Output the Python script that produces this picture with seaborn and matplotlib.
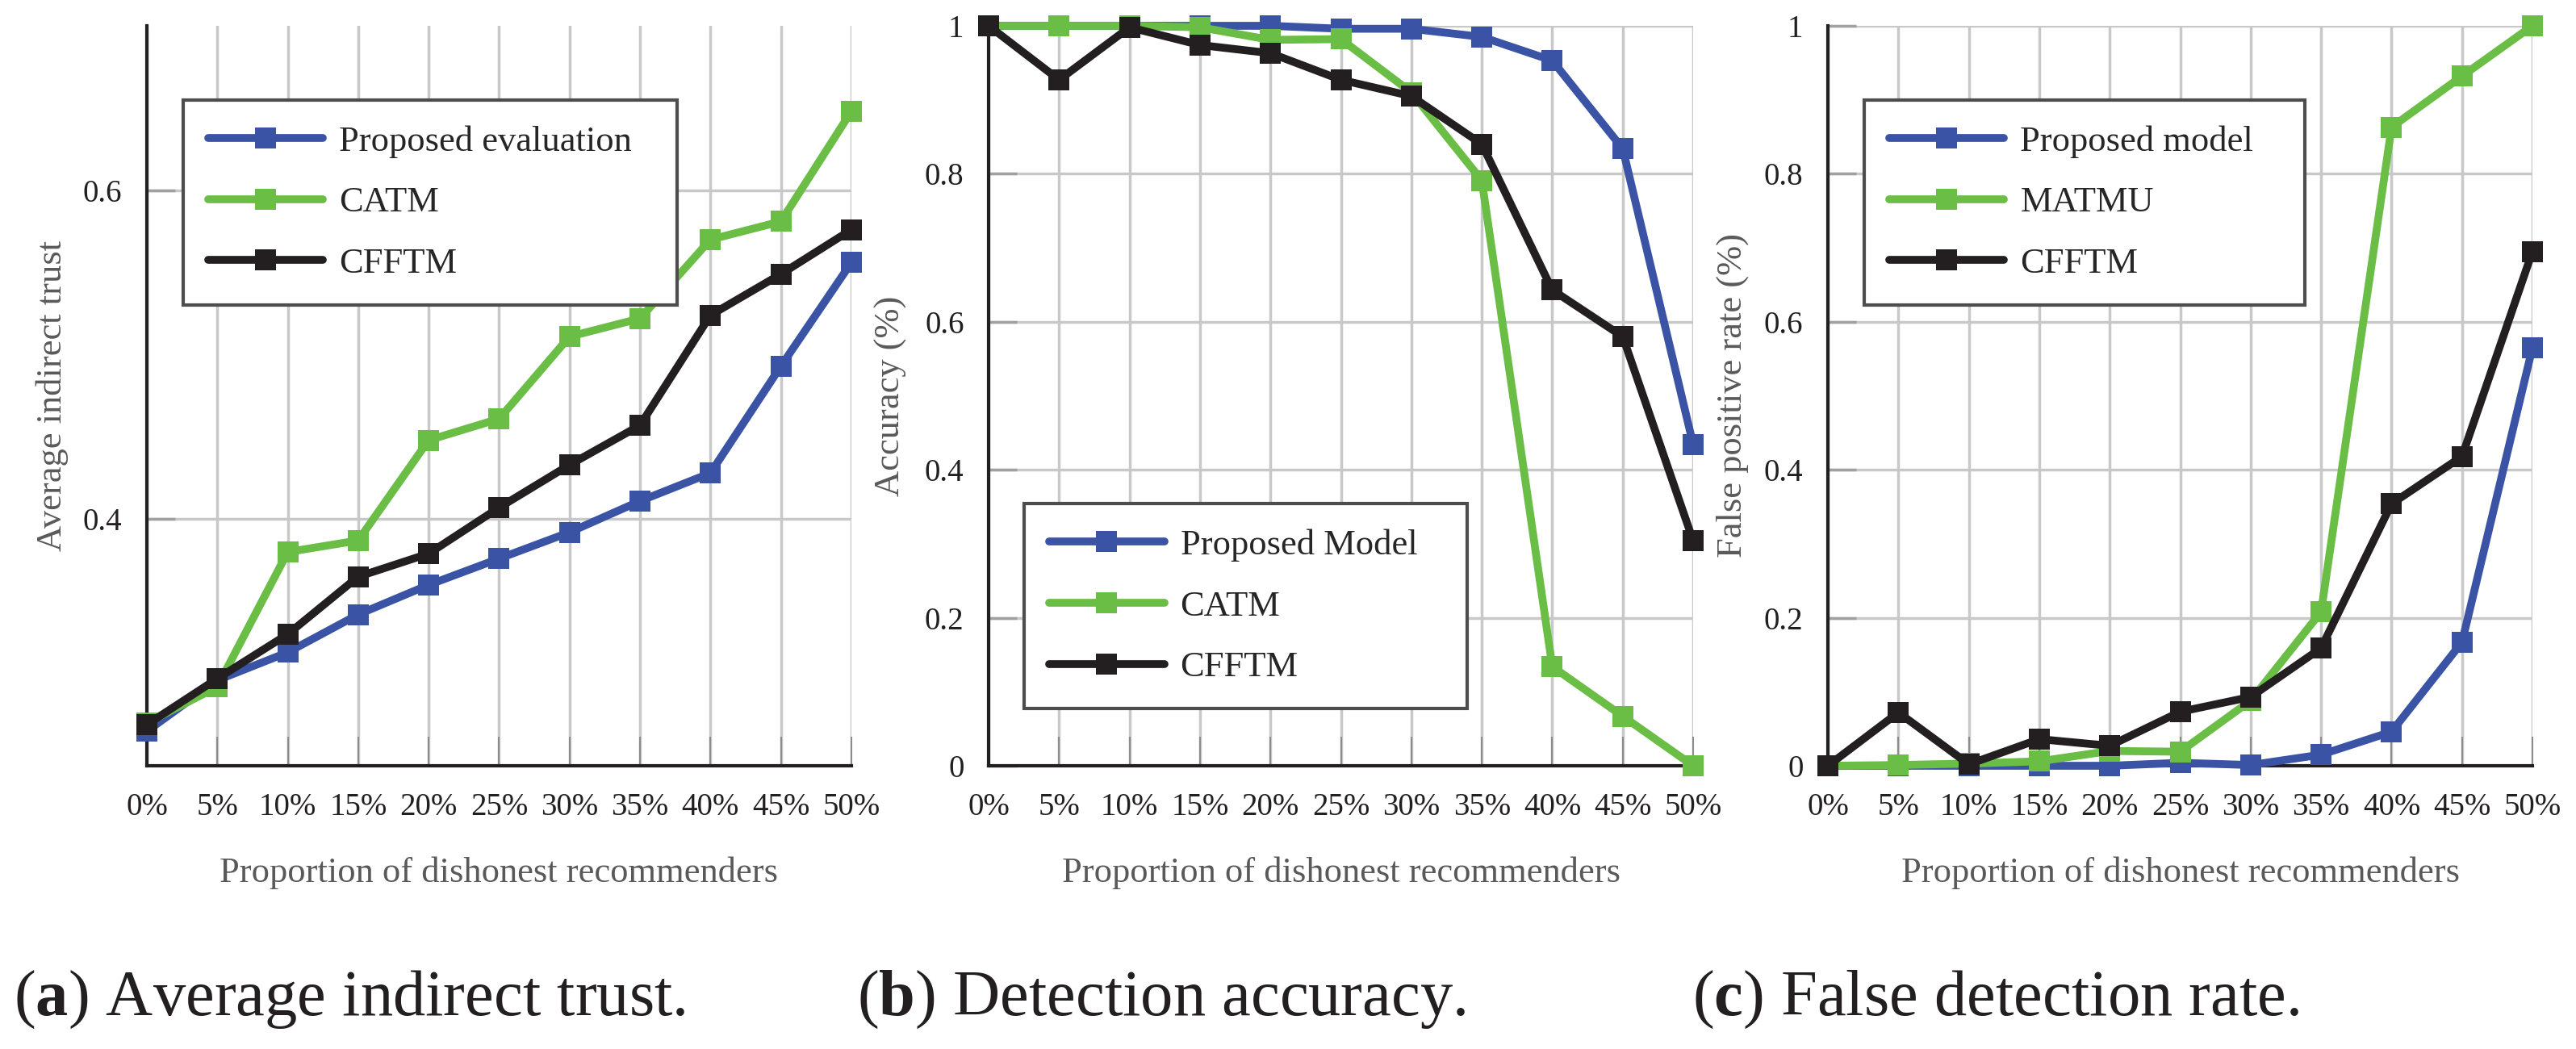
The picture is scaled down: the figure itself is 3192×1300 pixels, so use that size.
import numpy as np
import pandas as pd
import matplotlib
matplotlib.use("Agg")
import matplotlib.pyplot as plt
import seaborn as sns
from matplotlib.ticker import FuncFormatter

# x axis: proportion of dishonest recommenders (%)
proportions = [0, 5, 10, 15, 20, 25, 30, 35, 40, 45, 50]
tick_labels = [f"{p}%" for p in proportions]

# (a) average indirect trust
trust_proposed = [0.271, 0.302, 0.319, 0.342, 0.360, 0.376, 0.392, 0.411, 0.428, 0.493, 0.556]
trust_catm = [0.276, 0.298, 0.380, 0.387, 0.448, 0.461, 0.511, 0.522, 0.570, 0.581, 0.648]
trust_cfftm = [0.275, 0.303, 0.330, 0.365, 0.379, 0.407, 0.433, 0.457, 0.524, 0.549, 0.576]

# (b) detection accuracy
acc_proposed = [1.0, 1.0, 1.0, 1.0, 1.0, 0.996, 0.996, 0.985, 0.953, 0.834, 0.434]
acc_catm = [1.0, 1.0, 1.0, 0.998, 0.981, 0.982, 0.910, 0.791, 0.134, 0.067, 0.0]
acc_cfftm = [1.0, 0.927, 0.998, 0.974, 0.963, 0.927, 0.905, 0.840, 0.643, 0.580, 0.304]

# (c) false positive rate
fpr_proposed = [0.0, 0.0, 0.0, 0.0, 0.0, 0.004, 0.001, 0.015, 0.046, 0.167, 0.565]
fpr_matmu = [0.0, 0.001, 0.003, 0.006, 0.020, 0.019, 0.088, 0.208, 0.863, 0.932, 1.0]
fpr_cfftm = [0.0, 0.072, 0.002, 0.036, 0.027, 0.073, 0.093, 0.159, 0.354, 0.418, 0.695]

colors = ["#3A53A4", "#6ABD45", "#231F20"]


def long_frame(series):
    rows = []
    for name, values in series.items():
        for p, v in zip(proportions, values):
            rows.append({"prop": p, "value": v, "method": name})
    return pd.DataFrame(rows)


panels = [
    {
        "data": {"Proposed evaluation": trust_proposed, "CATM": trust_catm, "CFFTM": trust_cfftm},
        "ylabel": "Average indirect trust",
        "ylim": (0.25, 0.7),
        "yticks": [0.4, 0.6],
        "legend_box": (0.0515, 0.8997, 0.701, 0.0),
        "caption": r"($\mathbf{a}$) Average indirect trust.",
        "caption_x": 0.0053,
        "left": 0.0570,
        "label_x": -0.134,
    },
    {
        "data": {"Proposed Model": acc_proposed, "CATM": acc_catm, "CFFTM": acc_cfftm},
        "ylabel": "Accuracy (%)",
        "ylim": (0.0, 1.0),
        "yticks": [0, 0.2, 0.4, 0.6, 0.8, 1.0],
        "legend_box": (0.0506, 0.354, 0.629, 0.0),
        "caption": r"($\mathbf{b}$) Detection accuracy.",
        "caption_x": 0.3327,
        "left": 0.3838,
        "label_x": -0.139,
    },
    {
        "data": {"Proposed model": fpr_proposed, "MATMU": fpr_matmu, "CFFTM": fpr_cfftm},
        "ylabel": "False positive rate (%)",
        "ylim": (0.0, 1.0),
        "yticks": [0, 0.2, 0.4, 0.6, 0.8, 1.0],
        "legend_box": (0.0516, 0.8997, 0.625, 0.0),
        "caption": r"($\mathbf{c}$) False detection rate.",
        "caption_x": 0.657,
        "left": 0.7096,
        "label_x": -0.136,
    },
]

sns.set_theme(style="white")
plt.rcParams["font.family"] = ["Liberation Serif", "DejaVu Serif"]
plt.rcParams["mathtext.fontset"] = "custom"
plt.rcParams["mathtext.rm"] = "Liberation Serif"
plt.rcParams["mathtext.bf"] = "Liberation Serif:bold"

fig = plt.figure(figsize=(31.92, 13), dpi=100)

for spec in panels:
    ax = fig.add_axes([spec["left"], 0.27, 0.2735, 0.7054])
    df = long_frame(spec["data"])
    sns.lineplot(
        data=df, x="prop", y="value", hue="method",
        hue_order=list(spec["data"].keys()), palette=colors,
        marker="s", markersize=19, markeredgewidth=0,
        linewidth=7, clip_on=False, legend=False, ax=ax, zorder=3,
    )

    ax.set_xlim(0, 50)
    ax.set_ylim(*spec["ylim"])
    ax.set_xticks(proportions)
    ax.set_xticklabels(tick_labels)
    ax.set_yticks(spec["yticks"])
    ax.yaxis.set_major_formatter(FuncFormatter(lambda v, _: f"{v:g}"))

    ax.grid(True, color="#C8C8C8", linewidth=2.5, zorder=0)
    ax.set_axisbelow(True)
    for side in ["top", "right"]:
        ax.spines[side].set_visible(False)
    for side in ["left", "bottom"]:
        ax.spines[side].set_color("#231F20")
        ax.spines[side].set_linewidth(3)

    ax.tick_params(axis="x", direction="in", length=26, width=1.5, color="#8C8C8C",
                   pad=24, labelsize=28, labelcolor="#231F20", bottom=True)
    ax.tick_params(axis="y", direction="in", length=25, width=2.5, color="#A0A0A0",
                   pad=22, labelsize=28, labelcolor="#231F20", left=True)

    ax.set_xlabel("Proportion of dishonest recommenders", fontsize=32, color="#595959", va="center")
    ax.xaxis.set_label_coords(0.5, -0.145)
    ax.set_ylabel(spec["ylabel"], fontsize=32, color="#595959", va="center")
    ax.yaxis.set_label_coords(spec["label_x"], 0.5)

    leg = ax.legend(
        ax.lines[:3], list(spec["data"].keys()),
        loc="upper left", bbox_to_anchor=spec["legend_box"], mode="expand",
        borderaxespad=0, fontsize=32, handlelength=3.2, handletextpad=0.45,
        borderpad=0.7, labelspacing=0.8, frameon=True, fancybox=False, framealpha=1,
    )
    leg.get_frame().set_edgecolor("#4D4D4D")
    leg.get_frame().set_linewidth(3)
    leg.set_zorder(5)

    fig.text(spec["caption_x"], 0.0323, spec["caption"], fontsize=58,
             color="#231F20", va="baseline", ha="left")

fig.savefig("out.png", dpi=100)
